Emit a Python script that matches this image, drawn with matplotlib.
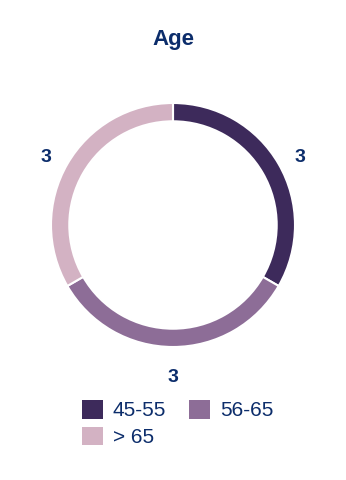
import matplotlib
matplotlib.use("Agg")
import matplotlib.pyplot as plt
import numpy as np

# данные
labels = ["45-55", "56-65", "> 65"]
values = [3, 3, 3]
colors = ["#3d2a5b", "#8d6d97", "#d3b2c3"]
navy = "#0c2d6b"

plt.rcParams['font.family'] = ['Liberation Sans', 'DejaVu Sans']

fig = plt.figure(figsize=(3.46, 4.8), dpi=100)
ax = fig.add_axes([0, 0, 1, 1])

wedges, _ = ax.pie(values, colors=colors, startangle=90, counterclock=False,
                   radius=1.0, wedgeprops=dict(width=0.15, edgecolor="white", linewidth=1.5))

# масштаб: радиус кольца ~122 px, центр (173, 225)
r_px = 122
ax.set_xlim(-173 / r_px, 173 / r_px)
ax.set_ylim(-(480 - 225) / r_px, 225 / r_px)
ax.set_aspect("equal")
ax.axis("off")

# подписи значений
total = sum(values)
start = 90.0
for v in values:
    mid = start - 360.0 * v / total / 2
    a = np.deg2rad(mid)
    ax.text(1.2 * np.cos(a), 1.2 * np.sin(a) - 0.05, str(v), ha="center", va="center",
            fontsize=14, fontweight="bold", color=navy)
    start -= 360.0 * v / total

fig.text(0.5, 1 - 40 / 480, "Age", ha="center", va="center",
         fontsize=16, fontweight="bold", color=navy)

order = [0, 2, 1]
leg = fig.legend([wedges[i] for i in order], [labels[i] for i in order], ncol=2,
                 loc="upper left", bbox_to_anchor=(82 / 346, 1 - 400 / 480), frameon=False,
                 borderpad=0, borderaxespad=0,
                 fontsize=15, handlelength=1.0, handleheight=1.0,
                 handletextpad=0.48, columnspacing=1.1, labelspacing=0.3,
                 labelcolor=navy)
for h in leg.legend_handles:
    h.set_edgecolor("none")

fig.savefig("out.png", dpi=100)
